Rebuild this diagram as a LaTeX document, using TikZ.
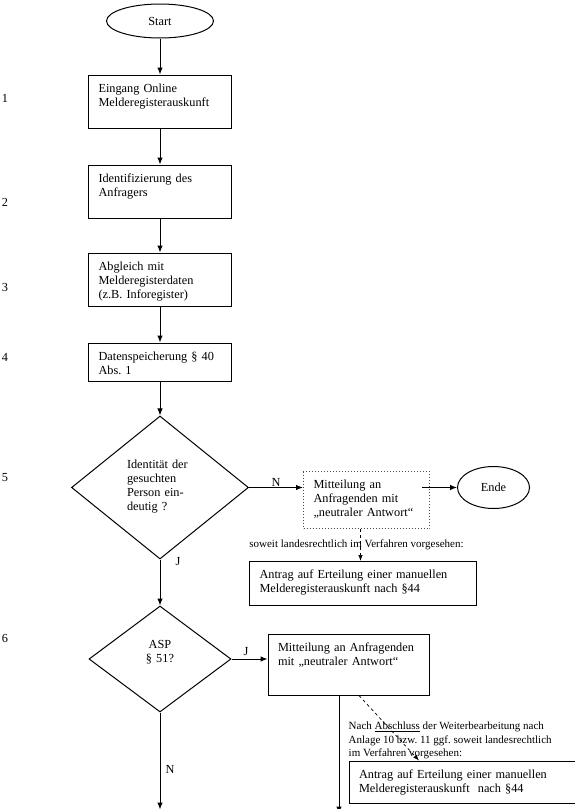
\documentclass[tikz,border=0pt]{standalone}
\usepackage{fontspec}
\setmainfont{Liberation Serif}
\usetikzlibrary{positioning, shapes.geometric, arrows.meta}
\frenchspacing

\begin{document}
\begin{tikzpicture}[x=1pt, y=1pt, every node/.style={font=\fontsize{12.3}{14}\selectfont}, arrow/.style={-{Latex[length=7pt, width=5.5pt]}, line width=1pt}, dasharrow/.style={-{Latex[length=6pt, width=4.5pt]}, dashed, line width=0.7pt}]
        \tikzstyle{terminal} = [ellipse, draw=black, line width=1pt, inner sep=0pt]
        \tikzstyle{process} = [rectangle, draw=black, line width=1pt, align=left, inner xsep=10pt, inner ysep=8pt, text height=9pt]
        \tikzstyle{decision} = [diamond, draw=black, line width=1pt, inner sep=0pt, text height=9pt]
        \tikzstyle{arrowtext} = [inner sep=1pt]
        \tikzstyle{notetext} = [font=\fontsize{11}{13.5}\selectfont, align=left, inner sep=0pt]
        \tikzstyle{stepno} = [inner sep=0pt]

        \useasboundingbox (0,0) rectangle (575,-809);

        \node[terminal, minimum width=107pt, minimum height=34pt] (start) at (160,-21) {Start};
        \node[process, text width=123pt, text depth=28pt, below=36pt of start] (eingang) {Eingang Online\\Melderegisterauskunft};
        \node[process, text width=123pt, text depth=28pt, below=36pt of eingang] (ident) {Identifizierung des\\Anfragers};
        \node[process, text width=123pt, text depth=28pt, below=34pt of ident] (abgleich) {Abgleich mit\\Melderegisterdaten\\(z.B. Inforegister)};
        \node[process, text width=123pt, text depth=13pt, below=36pt of abgleich] (speicher) {Datenspeicherung § 40\\Abs. 1};
        \node[decision, minimum width=177pt, minimum height=143pt, text width=66pt, align=left, text depth=47pt, below=34pt of speicher] (eindeutig) {Identität der\\gesuchten\\Person ein-\\deutig ?};
        \node[decision, minimum width=142pt, minimum height=106pt, text width=50pt, align=center, text depth=31pt, below=46pt of eindeutig] (asp) {ASP\\§ 51?};

        \node[process, draw=black!70, dotted, text width=106pt, text depth=32pt, right=54pt of eindeutig, yshift=-12.5pt] (neutralA) {Mitteilung an\\Anfragenden mit\\„neutraler Antwort“};
        \node[terminal, minimum width=72pt, minimum height=42pt, right=27pt of neutralA, yshift=12.5pt] (ende) {Ende};
        \node[process, text width=207pt, text depth=19pt, below=32pt of neutralA, xshift=-3.5pt] (antragA) {Antrag auf Erteilung einer manuellen\\Melderegisterauskunft nach §44};

        \node[process, text width=141pt, text depth=36pt, right=36pt of asp, yshift=-5.5pt] (neutralB) {Mitteilung an Anfragenden\\mit „neutraler Antwort“};
        \node[process, text width=206pt, text depth=17pt, below=65pt of neutralB, xshift=113.5pt] (antragB) {Antrag auf Erteilung einer manuellen\\Melderegisterauskunft\ \ nach §44};
        \node[notetext, above right=1pt and 0pt of antragB.north west] (nachtrag) {Nach \underline{Abschluss} der Weiterbearbeitung nach\\Anlage 10 bzw. 11 ggf. soweit landesrechtlich\\im Verfahren vorgesehen:};

        \coordinate[below=97pt of asp.south] (outN);
        \coordinate[below=118pt of neutralB.south, xshift=-9.5pt] (outJ);

        \node[stepno] (no1) at (5,-98) {1};
        \node[stepno] (no2) at (5,-202) {2};
        \node[stepno] (no3) at (5,-287) {3};
        \node[stepno] (no4) at (5,-357) {4};
        \node[stepno] (no5) at (5,-478) {5};
        \node[stepno] (no6) at (5,-638) {6};

        \draw[arrow] (start) -- (eingang);
        \draw[arrow] (eingang) -- (ident);
        \draw[arrow] (ident) -- (abgleich);
        \draw[arrow] (abgleich) -- (speicher);
        \draw[arrow] (speicher) -- (eindeutig);
        \draw[arrow] (eindeutig.east) -- (eindeutig.east -| neutralA.west) node[midway, above, arrowtext]{N};
        \draw[arrow] ([xshift=-8pt]eindeutig.east -| neutralA.east) -- (ende);
        \draw[dasharrow] ([xshift=-6pt]neutralA.south) -- ([xshift=-6pt]neutralA.south |- antragA.north) node[midway, notetext, xshift=-4pt]{soweit landesrechtlich im Verfahren vorgesehen:};
        \draw[arrow] (eindeutig) -- (asp) node[pos=0.05, right=14pt, arrowtext]{J};
        \draw[arrow] (asp.east) -- (asp.east -| neutralB.west) node[pos=0.4, above=2pt, arrowtext]{J};
        \draw[arrow] (asp) -- (outN) node[pos=0.59, right=4pt, arrowtext]{N};
        \draw[arrow] (outJ |- neutralB.south) -- (outJ);
        \draw[dasharrow] ([xshift=10.5pt]neutralB.south) -- ([xshift=-43pt]antragB.north);
    \end{tikzpicture}
\end{document}
